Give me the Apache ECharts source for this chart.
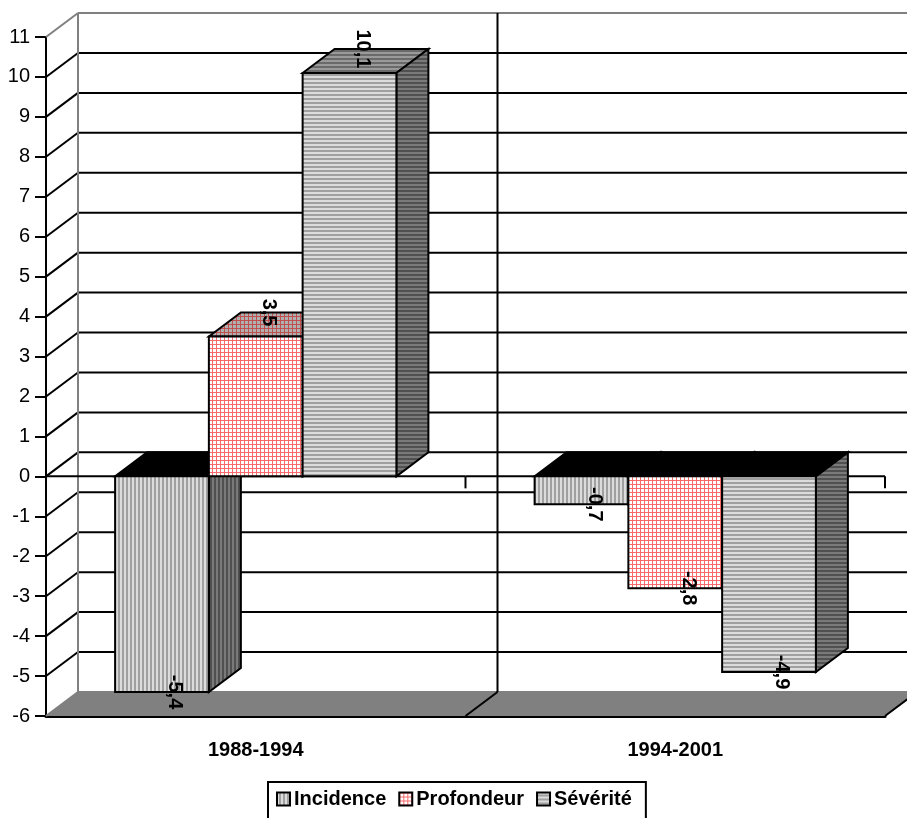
<!DOCTYPE html>
<html>
<head>
<meta charset="utf-8">
<style>html,body{margin:0;padding:0;background:#fff;overflow:hidden}#c{width:907px;height:818px}</style>
<script src="https://cdn.jsdelivr.net/npm/echarts@6/dist/echarts.min.js"></script>
</head>
<body>
<div id="c"></div>
<script>
const categories = ['1988-1994', '1994-2001'];
const seriesNames = ['Incidence', 'Profondeur', 'Sévérité'];
const incidence = [-5.4, -0.7];
const profondeur = [3.5, -2.8];
const severite = [10.1, -4.9];
const yTicks = [-6,-5,-4,-3,-2,-1,0,1,2,3,4,5,6,7,8,9,10,11];

const DX = 32, DY = -24, BAR = 0.2235;
const FONT = '"Liberation Sans", Arial, sans-serif';

function stripes(dir, c1, c2) {
  const c = document.createElement('canvas');
  c.width = dir === 'v' ? 4 : 1; c.height = dir === 'v' ? 1 : 4;
  const g = c.getContext('2d');
  g.fillStyle = c1; g.fillRect(0, 0, c.width, c.height);
  g.fillStyle = c2;
  if (dir === 'v') g.fillRect(2, 0, 2, 1); else g.fillRect(0, 2, 1, 2);
  return { image: c, repeat: 'repeat' };
}
function grid(bg, line) {
  const c = document.createElement('canvas');
  c.width = 4; c.height = 4;
  const g = c.getContext('2d');
  g.fillStyle = bg; g.fillRect(0, 0, 4, 4);
  g.fillStyle = line; g.fillRect(0, 0, 4, 1); g.fillRect(0, 0, 1, 4);
  return { image: c, repeat: 'repeat' };
}
const fills = [
  { front: stripes('v', '#dcdcdc', '#a0a0a0'), top: '#000', side: stripes('v', '#7a7a7a', '#505050') },
  { front: grid('#ffffff', '#f76a6a'), top: grid('#b0b0b0', '#c05050'), side: grid('#808080', '#a04040') },
  { front: stripes('h', '#dcdcdc', '#a0a0a0'), top: stripes('h', '#9a9a9a', '#6a6a6a'), side: stripes('h', '#7a7a7a', '#505050') }
];

function barItem(i) {
  return function (params, api) {
    const c = api.value(0), v = api.value(1);
    const base = api.coord([c, 0]);
    const end = api.coord([c, v]);
    const bw = api.size([1, 0])[0] * BAR;
    const x0 = base[0] + (i - 1.5) * bw, x1 = x0 + bw;
    const y0 = base[1], yv = end[1], yTop = Math.min(y0, yv);
    const st = { stroke: '#000', lineWidth: 2, lineJoin: 'miter' };
    const poly = (pts, fill) => ({ type: 'polygon', shape: { points: pts }, style: Object.assign({ fill }, st) });
    return {
      type: 'group',
      children: [
        poly([[x0, yTop], [x0 + DX, yTop + DY], [x1 + DX, yTop + DY], [x1, yTop]], v < 0 ? '#000' : fills[i].top),
        poly([[x1, y0], [x1 + DX, y0 + DY], [x1 + DX, yv + DY], [x1, yv]], fills[i].side),
        poly([[x0, y0], [x1, y0], [x1, yv], [x0, yv]], fills[i].front)
      ]
    };
  };
}
function labelItem(i) {
  return function (params, api) {
    const c = api.value(0), v = api.value(1);
    const end = api.coord([c, v]);
    const bw = api.size([1, 0])[0] * BAR;
    return {
      type: 'text',
      x: end[0] + (i - 1) * bw + 13,
      y: end[1] + (v > 0 ? DY : 0),
      rotation: -Math.PI / 2,
      style: { text: String(v).replace('.', ','), fill: '#000', align: 'center', verticalAlign: 'middle',
        font: 'bold 20px ' + FONT }
    };
  };
}
function line(p, q, color) {
  return { type: 'line', shape: { x1: p[0], y1: p[1], x2: q[0], y2: q[1] }, style: { stroke: color, lineWidth: 2 } };
}
function wallItem(params, api) {
  const v = api.value(0);
  const p = api.coord([0, v]);
  const gs = params.coordSys;
  const x0 = gs.x, x1 = gs.x + gs.width;
  const a = [x0, p[1]], b = [x0 + DX, p[1] + DY], e = [x1 + DX, p[1] + DY];
  const kids = [];
  if (v === yTicks[0]) {
    kids.push({ type: 'polygon', shape: { points: [a, b, e, [x1, p[1]]] }, style: { fill: '#808080', stroke: null } });
    kids.push(line(a, b, '#808080'));
    kids.push(line(b, e, '#808080'));
  } else if (v === yTicks[yTicks.length - 1]) {
    kids.push(line(a, b, '#808080'));
    kids.push(line(b, e, '#808080'));
    const bottom = api.coord([0, yTicks[0]])[1] + DY;
    kids.push({ type: 'line', z2: 5, shape: { x1: b[0], y1: b[1], x2: b[0], y2: bottom }, style: { stroke: '#808080', lineWidth: 2 } });
  } else {
    kids.push(line(a, b, '#000'));
    kids.push(line(b, e, '#000'));
  }
  return { type: 'group', children: kids };
}
function catLineItem(params, api) {
  const gs = params.coordSys;
  const i = api.value(0);
  const bandW = gs.width / categories.length;
  const x = gs.x + bandW * (i + 1);
  const zero = api.coord([0, 0])[1];
  const top = api.coord([0, yTicks[yTicks.length - 1]])[1];
  const bottom = api.coord([0, yTicks[0]])[1];
  return {
    type: 'group',
    children: [
      line([x + DX, top + DY], [x + DX, bottom + DY], '#000'),
      line([x, bottom], [x + DX, bottom + DY], '#000'),
      line([x - bandW, zero], [x, zero], '#000'),
      line([x, zero], [x, zero + 12], '#000')
    ]
  };
}

const pairs = a => a.map((v, k) => [k, v]);
const bars = [incidence, profondeur, severite];

const series = [
  { type: 'custom', name: 'wall', silent: true, data: yTicks.map(v => [v]), encode: { y: 0 }, renderItem: wallItem, z: 1 },
  { type: 'custom', name: 'catlines', silent: true, data: categories.map((c, k) => [k]), encode: { x: 0 }, renderItem: catLineItem, z: 2 }
];
bars.forEach((arr, i) => {
  series.push({ type: 'custom', name: seriesNames[i], silent: true, data: pairs(arr), encode: { x: 0, y: 1 },
    renderItem: barItem(i), itemStyle: { color: fills[i].front }, z: 3 + i });
});
bars.forEach((arr, i) => {
  series.push({ type: 'custom', name: 'lbl' + i, silent: true, data: pairs(arr), encode: { x: 0, y: 1 },
    renderItem: labelItem(i), z: 10 });
});

const chart = echarts.init(document.getElementById('c'), null, { renderer: 'canvas' });
chart.setOption({
  animation: false,
  backgroundColor: '#fff',
  grid: { left: 46, top: 37, width: 839, height: 679, containLabel: false },
  xAxis: {
    type: 'category', data: categories, position: 'bottom',
    axisLine: { onZero: false, lineStyle: { color: '#000', width: 3 } },
    axisTick: { length: 12, lineStyle: { color: '#000', width: 2 } },
    axisLabel: { color: '#000', fontFamily: FONT, fontWeight: 'bold', fontSize: 20, margin: 24 },
    splitLine: { show: false }
  },
  yAxis: {
    type: 'value', min: -6, max: 11, interval: 1,
    axisLine: { show: true, lineStyle: { color: '#000', width: 2 } },
    axisTick: { show: true, length: 11, lineStyle: { color: '#000', width: 2 } },
    axisLabel: { color: '#000', fontFamily: FONT, fontSize: 20, margin: 16 },
    splitLine: { show: false }
  },
  legend: {
    data: seriesNames, left: 268, top: 782, orient: 'horizontal',
    icon: 'rect', itemWidth: 13, itemHeight: 13, itemGap: 12,
    padding: [7, 14, 30, 8],
    backgroundColor: '#fff', borderColor: '#000', borderWidth: 2, borderRadius: 0,
    selectedMode: false,
    itemStyle: { borderColor: '#000', borderWidth: 2 },
    textStyle: { color: '#000', fontFamily: FONT, fontWeight: 'bold', fontSize: 20, padding: [0, 0, 0, -1] }
  },
  series
});
</script>
</body>
</html>
